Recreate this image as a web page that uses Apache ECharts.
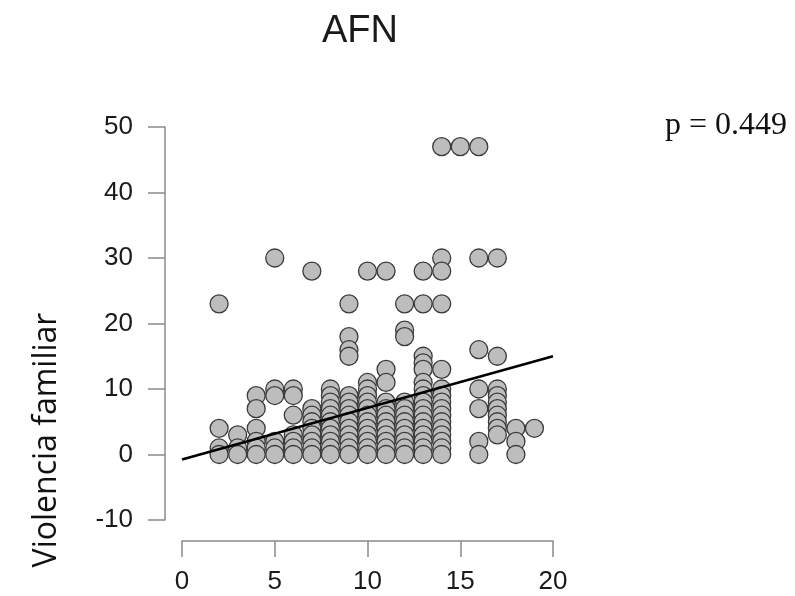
<!DOCTYPE html>
<html><head><meta charset="utf-8">
<script src="https://cdn.jsdelivr.net/npm/echarts@6/dist/echarts.min.js"></script>
<style>html,body{margin:0;padding:0;background:#fff}#c{width:795px;height:596px}</style>
</head><body><div id="c"></div>
<script>
const chartTitle = 'AFN';
const pLabel = 'p = 0.449';
const yAxisTitle = 'Violencia familiar';
const xTicks = [0, 5, 10, 15, 20];
const yTicks = [-10, 0, 10, 20, 30, 40, 50];
const xValues = [
  2,2,2,2,
  3,3,3,
  4,4,4,4,4,4,
  5,5,5,5,5,5,
  6,6,6,6,6,6,6,
  7,7,7,7,7,7,7,7,7,
  8,8,8,8,8,8,8,8,8,8,8,
  9,9,9,9,9,9,9,9,9,9,9,9,9,9,
  10,10,10,10,10,10,10,10,10,10,10,10,10,
  11,11,11,11,11,11,11,11,11,11,11,11,
  12,12,12,12,12,12,12,12,12,12,12,12,
  13,13,13,13,13,13,13,13,13,13,13,13,13,13,13,13,13,
  14,14,14,14,14,14,14,14,14,14,14,14,14,14,14,14,
  15,
  16,16,16,16,16,16,16,
  17,17,17,17,17,17,17,17,17,17,
  18,18,18,
  19
];
const yValues = [
  23,4,1,0,
  3,1,0,
  9,7,4,2,1,0,
  30,10,9,2,1,0,
  10,9,6,3,2,1,0,
  28,7,6,5,4,3,2,1,0,
  10,9,8,7,6,5,4,3,2,1,0,
  23,18,16,15,9,8,7,6,5,4,3,2,1,0,
  28,11,10,9,8,7,6,5,4,3,2,1,0,
  28,13,11,8,7,6,5,4,3,2,1,0,
  23,19,18,8,7,6,5,4,3,2,1,0,
  28,23,15,14,13,11,10,9,8,7,6,5,4,3,2,1,0,
  47,30,28,23,13,10,9,8,7,6,5,4,3,2,1,0,
  47,
  47,30,16,10,7,2,0,
  30,15,10,9,8,7,6,5,4,3,
  4,2,0,
  4
];
const fitX = [0, 20];
const fitY = [-0.76, 15.0];

const points = xValues.map((x, i) => [x, yValues[i]]);
const fitLine = fitX.map((x, i) => [x, fitY[i]]);

const chart = echarts.init(document.getElementById('c'), null, {renderer: 'canvas'});
const axisCol = '#8a8a8a';
chart.setOption({
  animation: false,
  backgroundColor: '#ffffff',
  title: [
    {text: chartTitle, left: 355, top: 8, textAlign: 'center',
     textStyle: {fontFamily: 'Liberation Sans', fontSize: 38, fontWeight: 'normal', color: '#1a1a1a'}},
    {text: pLabel, left: 660, top: 105,
     textStyle: {fontFamily: 'Liberation Serif', fontSize: 32, fontWeight: 'normal', color: '#111'}}
  ],
  graphic: [
    {type: 'text', x: 47, y: 440, rotation: Math.PI / 2,
     style: {text: yAxisTitle, fontFamily: 'Open Sans', fontSize: 32, fill: '#111',
             textAlign: 'center', textVerticalAlign: 'middle'}}
  ],
  grid: {left: 182, right: 242, top: 127, bottom: 76, containLabel: false},
  xAxis: {
    type: 'value', min: 0, max: 20, interval: 5, offset: 21,
    axisLine: {show: true, onZero: false, lineStyle: {color: axisCol, width: 1.5}},
    axisTick: {show: true, length: 16, lineStyle: {color: axisCol, width: 1.5}},
    axisLabel: {margin: 28, fontFamily: 'Liberation Sans', fontSize: 26, color: '#1a1a1a',
      formatter: v => xTicks.includes(v) ? String(v) : ''},
    splitLine: {show: false}
  },
  yAxis: {
    type: 'value', min: -10, max: 50, interval: 10, offset: 17,
    axisLine: {show: true, onZero: false, lineStyle: {color: axisCol, width: 1.5}},
    axisTick: {show: true, length: 17, lineStyle: {color: axisCol, width: 1.5}},
    axisLabel: {margin: 32, fontFamily: 'Liberation Sans', fontSize: 26, color: '#1a1a1a',
      formatter: v => yTicks.includes(v) ? String(v) : ''},
    splitLine: {show: false}
  },
  series: [
    {type: 'scatter', data: points, symbol: 'circle', symbolSize: 18,
     itemStyle: {color: '#bdbdbd', borderColor: '#3a3a3a', borderWidth: 1.3, opacity: 1}},
    {type: 'line', data: fitLine, symbol: 'none', z: 5,
     lineStyle: {color: '#000', width: 2.5}}
  ]
});
</script>
</body></html>
